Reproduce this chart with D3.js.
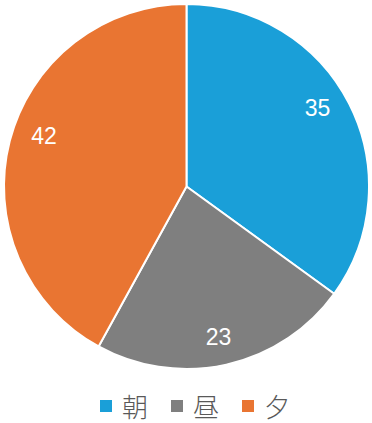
<!DOCTYPE html>
<html>
<head>
<meta charset="utf-8">
<script src="https://cdn.jsdelivr.net/npm/d3@7"></script>
<style>
  body { margin: 0; background: #fff; }
</style>
</head>
<body>
<div id="chart"></div>
<script>
// data
const categories = ['朝', '昼', '夕'];
const values = [35, 23, 42];
const colours = ['#1a9fd8', '#7f7f7f', '#e97532'];

const w = 372;
const h = 423;
const cx = 186.5, cy = 186.5;
const radius = 182.5;
const labelRadius = 137;     // label anchor radius
const pushX = 10, pushY = 16.5; // label box pushed outward from anchor

let svg = d3.select('#chart')
  .append('svg')
  .attr('width', w)
  .attr('height', h);

const colour = d3.scaleOrdinal().domain(categories).range(colours);

const pie = d3.pie().sort(null).value(d => d.value);
const data = categories.map((c, i) => ({ name: c, value: values[i] }));
const arcs = pie(data);

const arc = d3.arc().innerRadius(0).outerRadius(radius);

const g = svg.append('g').attr('transform', `translate(${cx},${cy})`);

g.selectAll('path')
  .data(arcs)
  .enter().append('path')
  .attr('d', arc)
  .attr('fill', d => colour(d.data.name))
  .attr('stroke', '#fff')
  .attr('stroke-width', 2)
  .attr('stroke-linejoin', 'round');

g.selectAll('text.lbl')
  .data(arcs)
  .enter().append('text')
  .attr('class', 'lbl')
  .attr('transform', d => {
    const a = (d.startAngle + d.endAngle) / 2;
    const x = Math.sin(a) * (labelRadius + pushX);
    const y = -Math.cos(a) * labelRadius - Math.sign(Math.cos(a)) * pushY;
    return `translate(${x},${y})`;
  })
  .attr('text-anchor', 'middle')
  .attr('dominant-baseline', 'central')
  .attr('font-family', 'Liberation Sans, Arial, sans-serif')
  .attr('font-size', 23)
  .attr('fill', '#fff')
  .text(d => d.data.value);

// legend
const legendX = d3.scalePoint().domain(categories).range([100, 242]);
const legend = svg.append('g');

const item = legend.selectAll('g')
  .data(categories)
  .enter().append('g')
  .attr('transform', d => `translate(${legendX(d)},400)`);

item.append('rect')
  .attr('width', 12)
  .attr('height', 12)
  .attr('fill', d => colour(d));

item.append('text')
  .attr('x', 22)
  .attr('y', 5)
  .attr('dominant-baseline', 'central')
  .attr('font-family', 'Noto Sans CJK JP, sans-serif')
  .attr('font-size', 26)
  .attr('font-weight', 300)
  .attr('fill', '#595959')
  .text(d => d);
</script>
</body>
</html>
